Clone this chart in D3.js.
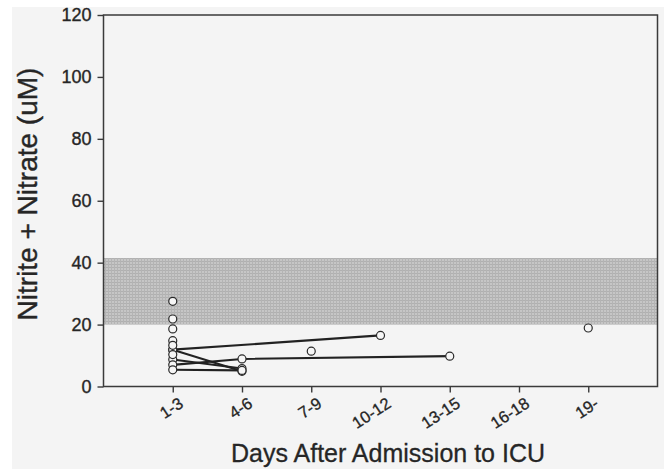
<!DOCTYPE html>
<html>
<head>
<meta charset="utf-8">
<script src="https://cdn.jsdelivr.net/npm/d3@7"></script>
<style>
  html, body { margin: 0; padding: 0; background: #ffffff; }
  svg { display: block; }
</style>
</head>
<body>
<svg id="chart" width="664" height="469"></svg>
<script>
// ---------- data ----------
const categories = ["1-3", "4-6", "7-9", "10-12", "13-15", "16-18", "19-"];
const yTickValues = [0, 20, 40, 60, 80, 100, 120];
const normalRange = [20, 41.5];

// serial measurements per patient (null = no sample in that period)
const patient1 = [11.9, null, null, 16.5, null, null, null];
const patient2 = [11.9, 4.9, null, null, null, null, null];
const patient3 = [8.7, 5.8, null, null, null, null, null];
const patient4 = [7.0, 8.9, null, null, 9.8, null, null];
const patient5 = [5.4, 5.2, null, null, null, null, null];
const patients = [patient1, patient2, patient3, patient4, patient5];

// single measurements
const singleDays = ["1-3", "1-3", "1-3", "1-3", "1-3", "1-3", "7-9", "19-"];
const singleValues = [27.5, 21.8, 18.6, 14.8, 13.3, 10.3, 11.4, 18.9];

// ---------- layout ----------
const svg = d3.select("#chart");
const plotLeft = 103.5, plotRight = 657.5, plotTop = 15, plotBottom = 386.5;

// halftone-like texture for the normal range band
const defs = svg.append("defs");
const pat = defs.append("pattern").attr("id", "screen")
  .attr("patternUnits", "userSpaceOnUse").attr("width", 3).attr("height", 3);
pat.append("rect").attr("width", 3).attr("height", 3).attr("fill", "#c6c6c6");
pat.append("rect").attr("width", 3).attr("height", 1).attr("fill", "#b0b0b0");
pat.append("rect").attr("width", 1).attr("height", 3).attr("fill", "#b4b4b4");

svg.append("rect").attr("x", 12).attr("y", 7).attr("width", 652).attr("height", 462)
  .attr("fill", "#f4f4f4");

const x = d3.scaleLinear().domain([0, categories.length + 1]).range([plotLeft, plotRight]);
const y = d3.scaleLinear().domain([0, 120]).range([plotBottom, plotTop]);
const xi = name => categories.indexOf(name) + 1;

// normal range band
svg.append("rect")
  .attr("x", x(0)).attr("width", x(categories.length + 1) - x(0))
  .attr("y", y(normalRange[1])).attr("height", y(normalRange[0]) - y(normalRange[1]))
  .attr("fill", "url(#screen)");

const axisColor = "#3a3a3a";
const textColor = "#262626";
const font = "'Liberation Sans', Arial, Helvetica, sans-serif";

// Y axis
const yAxis = svg.append("g").attr("transform", `translate(${plotLeft},0)`)
  .call(d3.axisLeft(y).tickValues(yTickValues).tickSize(6).tickPadding(6));
yAxis.selectAll("text").attr("font-family", font).attr("font-size", 18)
  .attr("fill", textColor).attr("stroke", textColor).attr("stroke-width", 0.35);

// X axis
const xAxis = svg.append("g").attr("transform", `translate(0,${plotBottom})`)
  .call(d3.axisBottom(x).tickValues(d3.range(1, categories.length + 1))
    .tickFormat(i => categories[i - 1]).tickSize(6));
xAxis.selectAll("text")
  .attr("font-family", font).attr("font-size", 16.5)
  .attr("fill", textColor).attr("stroke", textColor).attr("stroke-width", 0.3)
  .attr("text-anchor", "end")
  .attr("y", 0)
  .attr("dy", "0.35em")
  .attr("transform", "translate(8,15) rotate(-33)");

svg.selectAll(".domain").remove();
svg.selectAll(".tick line").attr("stroke", axisColor).attr("stroke-width", 1.4);

// frame
svg.append("rect").attr("x", plotLeft).attr("y", plotTop)
  .attr("width", plotRight - plotLeft).attr("height", plotBottom - plotTop)
  .attr("fill", "none").attr("stroke", axisColor).attr("stroke-width", 1.5);

// patient lines
const line = d3.line().x(d => x(d[0])).y(d => y(d[1]));
patients.forEach(p => {
  const pts = p.map((v, i) => [i + 1, v]).filter(d => d[1] !== null);
  svg.append("path").datum(pts).attr("d", line)
    .attr("fill", "none").attr("stroke", "#222").attr("stroke-width", 2.1);
});

// circles
const allPts = [];
patients.forEach(p => p.forEach((v, i) => { if (v !== null) allPts.push([i + 1, v]); }));
singleDays.forEach((d, k) => allPts.push([xi(d), singleValues[k]]));
svg.selectAll("circle.pt").data(allPts).join("circle")
  .attr("class", "pt")
  .attr("cx", d => x(d[0])).attr("cy", d => y(d[1])).attr("r", 4)
  .attr("fill", "#f6f6f6").attr("stroke", "#2a2a2a").attr("stroke-width", 1.2);

// titles
svg.append("text")
  .attr("transform", `translate(37,194) rotate(-90)`)
  .attr("text-anchor", "middle")
  .attr("font-family", font).attr("font-size", 28)
  .attr("fill", textColor).attr("stroke", textColor).attr("stroke-width", 0.4)
  .text("Nitrite + Nitrate (uM)");

svg.append("text")
  .attr("x", 388).attr("y", 462)
  .attr("text-anchor", "middle")
  .attr("font-family", font).attr("font-size", 25)
  .attr("fill", textColor).attr("stroke", textColor).attr("stroke-width", 0.3)
  .text("Days After Admission to ICU");
</script>
</body>
</html>
